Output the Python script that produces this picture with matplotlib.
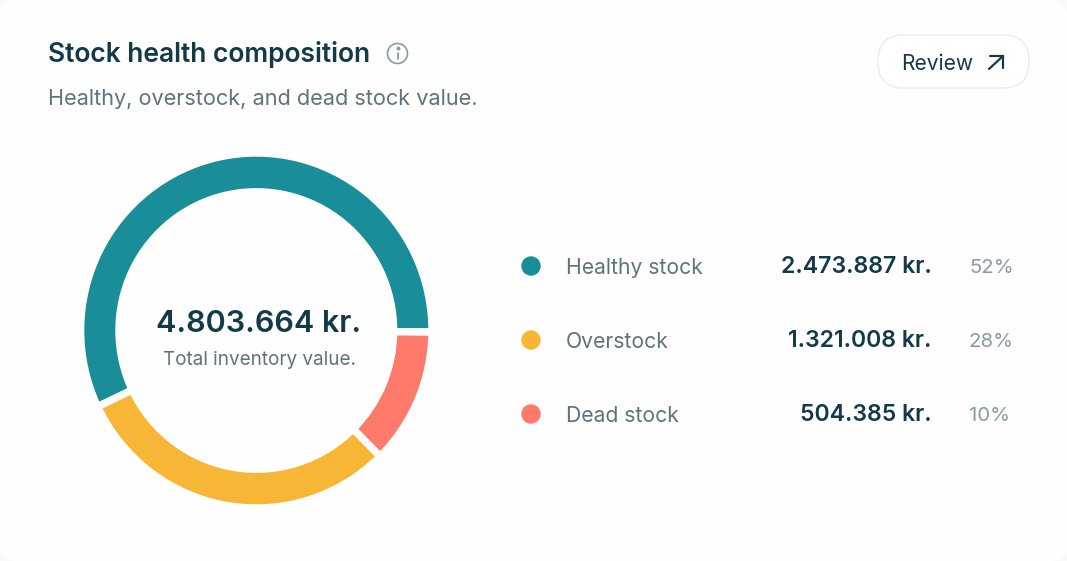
#!/usr/bin/env python3
"""Stock health composition card: donut ring plus a small legend table."""

from matplotlib import pyplot as plt
from matplotlib.patches import Circle, FancyBboxPatch

plt.rcParams['font.family'] = ['Inter', 'DejaVu Sans']

# Data
segments = ['Healthy stock', 'Overstock', 'Dead stock']
amounts = ['2.473.887 kr.', '1.321.008 kr.', '504.385 kr.']
percents = ['52%', '28%', '10%']
ring_shares = [57.2, 30.4, 12.4]   # arc lengths
total_label = '4.803.664 kr.'

colors = ['#1a8e98', '#f8b636', '#ff7a6b']
dark = '#133a48'
muted = '#5f737d'
faint = '#8a9aa2'
card = '#fefefe'

W, H = 1067, 561
fig = plt.figure(figsize=(W / 100, H / 100), dpi=100, facecolor='#f8f9f9')

# Overlay in image pixels, y pointing down
ax = fig.add_axes([0, 0, 1, 1])
ax.set_xlim(0, W)
ax.set_ylim(H, 0)
ax.axis('off')

ax.add_patch(FancyBboxPatch((16, 16), W - 32, H - 32,
                            boxstyle='round,pad=16,rounding_size=16',
                            fc=card, ec='none', zorder=0))

# Header
ax.text(47.5, 54, 'Stock health composition', fontsize=19.0, fontweight=600,
        color=dark, va='center', ha='left')
ax.text(47.5, 99, 'Healthy, overstock, and dead stock value.', fontsize=15.6,
        color=muted, va='center', ha='left')

# Info icon
ax.add_patch(Circle((397.5, 53.5), 10, fc='none', ec=faint, lw=1.2))
ax.plot([397.5, 397.5], [52.5, 59], color=faint, lw=1.3, solid_capstyle='round')
ax.plot([397.5], [48.3], 'o', color=faint, ms=1.8)

# Review button
ax.add_patch(FancyBboxPatch((904, 61), 99, 1,
                            boxstyle='round,pad=26,rounding_size=26',
                            fc='white', ec='#e8eeee', lw=1))
ax.text(937, 64, 'Review', fontsize=15.1, color=dark, va='center', ha='center')
ax.plot([989, 1003], [69, 56], color=dark, lw=1.6, solid_capstyle='round')
ax.plot([990, 1003, 1003], [56, 56, 68], color=dark, lw=1.6,
        solid_capstyle='round', solid_joinstyle='miter')

# Donut, very slightly taller than wide like the reference
cx, cy, rx, ry, thick, gap = 256.3, 330.5, 172, 173.8, 31, 7.4
px, py = rx + gap / 2, ry + gap / 2
ax_pie = fig.add_axes([(cx - px) / W, 1 - (cy + py) / H, 2 * px / W, 2 * py / H])
ax_pie.pie(ring_shares, colors=colors, startangle=-0.5, counterclock=True, radius=1,
           wedgeprops=dict(width=(thick + gap) / px, edgecolor=card, linewidth=gap * 0.72))
ax_pie.set_aspect('auto')
ax_pie.set_xlim(-1, 1)
ax_pie.set_ylim(-1, 1)
ax_pie.patch.set_alpha(0)

ax.text(258.5, 324, total_label, fontsize=22.0, fontweight=600, color=dark,
        va='center', ha='center')
ax.text(259.5, 360, 'Total inventory value.', fontsize=13.6, color=muted,
        va='center', ha='center')

# Legend rows
row_y = [266, 340, 414]
for y, name, amount, pct, c in zip(row_y, segments, amounts, percents, colors):
    ax.add_patch(Circle((531, y), 9.7, fc=c, ec='none'))
    ax.text(566, y + 1.5, name, fontsize=15.2, color=muted, va='center', ha='left')
    ax.text(931.5, y + 1, amount, fontsize=16.65, fontweight=600, color=dark,
            va='center', ha='right')
    ax.text(969, y + 1.5, pct, fontsize=14.7, color=faint, va='center', ha='left')

fig.savefig('out.png', dpi=100, facecolor=fig.get_facecolor())
